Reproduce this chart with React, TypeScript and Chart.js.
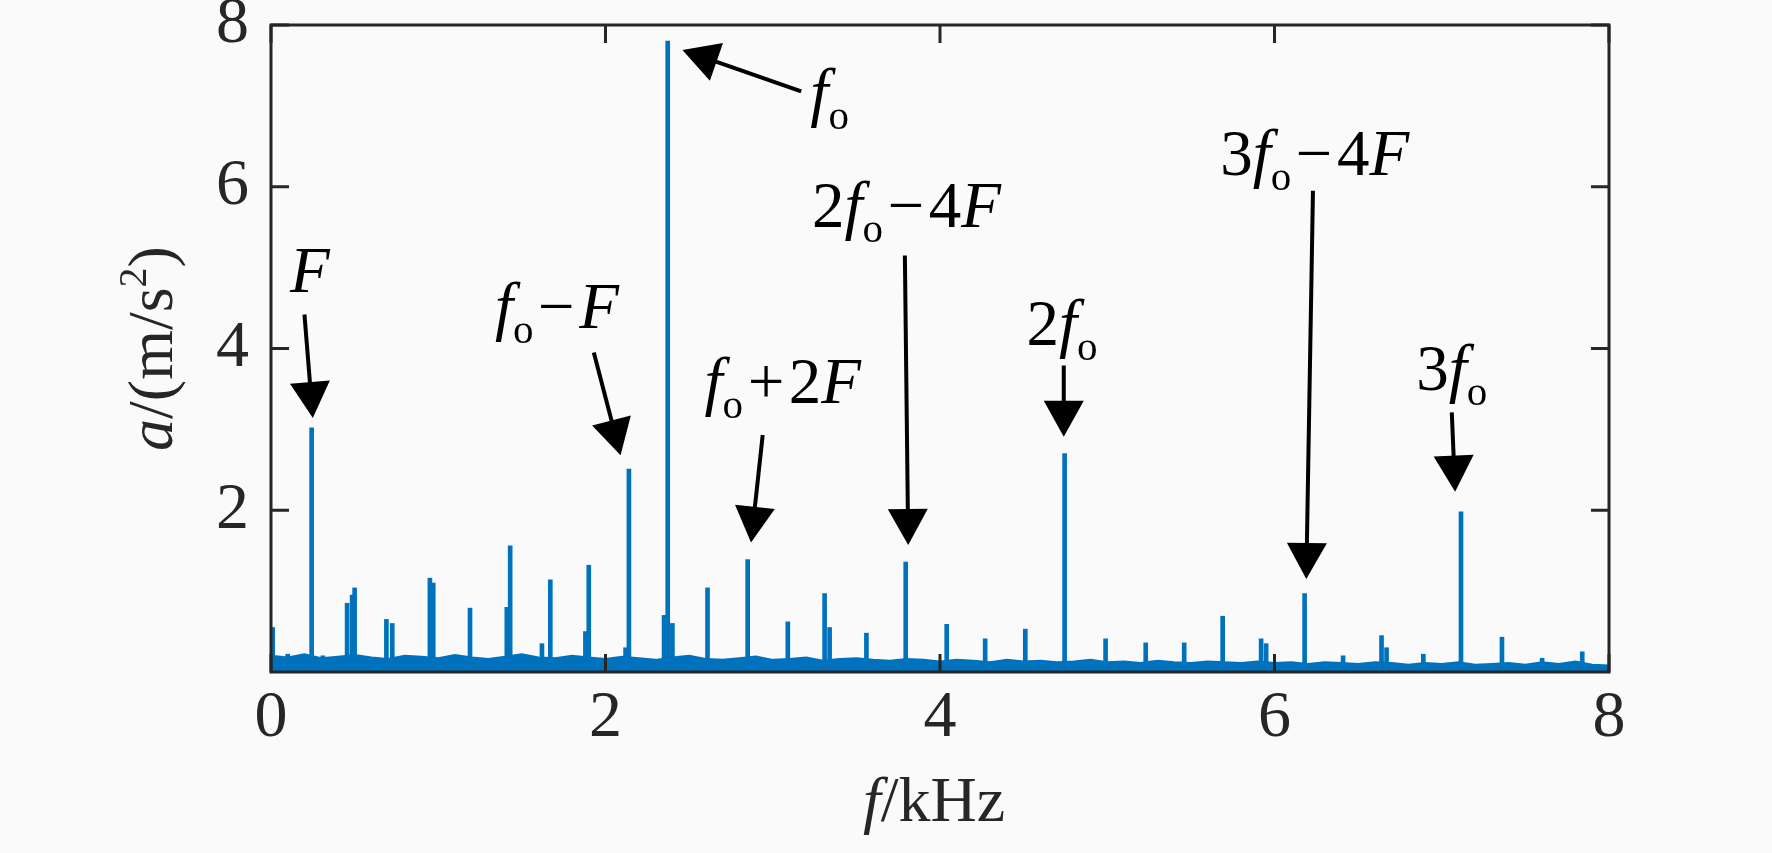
import React, { useEffect, useRef } from "react";
import { Chart, registerables } from "chart.js";

Chart.register(...registerables);

// ---- Data ----
// Spectral peaks: frequency (kHz) and amplitude a (m/s^2)
const peakFreqs = [
  0.01, 0.1, 0.16, 0.243, 0.31, 0.455, 0.485, 0.5, 0.69, 0.725,
  0.95, 0.97, 1.19, 1.41, 1.43, 1.62, 1.67, 1.88, 1.9, 2.12,
  2.14, 2.35, 2.372, 2.4, 2.61, 2.85, 3.09, 3.31, 3.34, 3.56,
  3.795, 4.04, 4.27, 4.51, 4.745, 4.99, 5.23, 5.46, 5.69, 5.92,
  5.95, 6.18, 6.41, 6.64, 6.67, 6.89, 7.115, 7.36, 7.6, 7.84,
];
const peakAmps = [
  0.55, 0.22, 0.2, 3.02, 0.2, 0.85, 0.95, 1.04, 0.65, 0.6,
  1.16, 1.1, 0.79, 0.8, 1.56, 0.35, 1.14, 0.5, 1.32, 0.3,
  2.51, 0.7, 7.8, 0.6, 1.04, 1.39, 0.62, 0.97, 0.55, 0.48,
  1.36, 0.59, 0.41, 0.53, 2.7, 0.41, 0.36, 0.36, 0.69, 0.41,
  0.35, 0.97, 0.2, 0.45, 0.3, 0.22, 1.98, 0.43, 0.17, 0.25,
];

// Broadband noise floor
const floorFreqs = [
  0.0, 0.1, 0.2, 0.3, 0.4, 0.5, 0.6, 0.7, 0.8, 0.9,
  1.0, 1.1, 1.2, 1.3, 1.4, 1.5, 1.6, 1.7, 1.8, 1.9,
  2.0, 2.1, 2.2, 2.3, 2.4, 2.5, 2.6, 2.7, 2.8, 2.9,
  3.0, 3.1, 3.2, 3.3, 3.4, 3.5, 3.6, 3.7, 3.8, 3.9,
  4.0, 4.1, 4.2, 4.3, 4.4, 4.5, 4.6, 4.7, 4.8, 4.9,
  5.0, 5.1, 5.2, 5.3, 5.4, 5.5, 5.6, 5.7, 5.8, 5.9,
  6.0, 6.1, 6.2, 6.3, 6.4, 6.5, 6.6, 6.7, 6.8, 6.9,
  7.0, 7.1, 7.2, 7.3, 7.4, 7.5, 7.6, 7.7, 7.8, 7.9, 8.0,
];
const floorVals = [
  0.2, 0.18, 0.22, 0.17, 0.19, 0.21, 0.18, 0.16, 0.2, 0.19,
  0.17, 0.21, 0.18, 0.16, 0.19, 0.22, 0.18, 0.17, 0.2, 0.18,
  0.16, 0.19, 0.17, 0.15, 0.18, 0.2, 0.16, 0.15, 0.17, 0.19,
  0.15, 0.16, 0.18, 0.14, 0.16, 0.17, 0.15, 0.14, 0.16, 0.15,
  0.13, 0.15, 0.14, 0.12, 0.15, 0.13, 0.14, 0.12, 0.13, 0.15,
  0.12, 0.13, 0.11, 0.14, 0.12, 0.11, 0.13, 0.12, 0.11, 0.13,
  0.11, 0.12, 0.1, 0.12, 0.11, 0.1, 0.12, 0.11, 0.09, 0.11,
  0.1, 0.12, 0.09, 0.1, 0.11, 0.09, 0.12, 0.1, 0.13, 0.09, 0.08,
];

const xTicks = [0, 2, 4, 6, 8];
const yTicks = [2, 4, 6, 8];

// Annotation labels: centre x, baseline y (data units), rich-text parts
// style: n = upright, i = italic, s = subscript, o = operator (spaced)
type Part = [string, "n" | "i" | "s" | "o"];
const labelX = [0.233, 1.71, 3.34, 3.06, 3.8, 4.73, 6.24, 7.06];
const labelY = [4.7, 4.25, 6.9, 3.32, 5.5, 4.04, 6.14, 3.49];
const labelParts: Part[][] = [
  [["F", "i"]],
  [["f", "i"], ["o", "s"], ["\u2212", "o"], ["F", "i"]],
  [["f", "i"], ["o", "s"]],
  [["f", "i"], ["o", "s"], ["+", "o"], ["2", "n"], ["F", "i"]],
  [["2", "n"], ["f", "i"], ["o", "s"], ["\u2212", "o"], ["4", "n"], ["F", "i"]],
  [["2", "n"], ["f", "i"], ["o", "s"]],
  [["3", "n"], ["f", "i"], ["o", "s"], ["\u2212", "o"], ["4", "n"], ["F", "i"]],
  [["3", "n"], ["f", "i"], ["o", "s"]],
];

// Arrows: tail and tip in data units
const arrowFromX = [0.2, 1.93, 3.17, 2.94, 3.79, 4.74, 6.23, 7.06];
const arrowFromY = [4.42, 3.95, 7.18, 2.93, 5.15, 3.79, 5.95, 3.21];
const arrowToX = [0.25, 2.09, 2.46, 2.87, 3.81, 4.74, 6.19, 7.08];
const arrowToY = [3.14, 2.68, 7.69, 1.6, 1.57, 2.91, 1.15, 2.23];

const W = 1772;
const H = 853;
const PLOT_LEFT = 271;
const PLOT_RIGHT = 1609;
const PLOT_TOP = 25;
const PLOT_BOTTOM = 672;
const BLUE = "#0072BD";
const AXIS = "#262626";
const FONT = '"Liberation Serif", "Times New Roman", serif';
const FS = 65;
const SUB = 41;
const TICK_FS = 66;

function fontFor(s: string, fs: number, sub: number) {
  return s === "i" ? `italic ${fs}px ${FONT}` : s === "s" ? `${sub}px ${FONT}` : `${fs}px ${FONT}`;
}

function drawRich(
  ctx: CanvasRenderingContext2D,
  parts: Part[],
  cx: number,
  by: number,
  fs: number,
  sub: number,
  subShift: number
) {
  const gap = fs * 0.07;
  let total = 0;
  const widths: number[] = [];
  for (const [t, s] of parts) {
    ctx.font = fontFor(s, fs, sub);
    const w = ctx.measureText(t).width + (s === "o" ? 2 * gap : 0);
    widths.push(w);
    total += w;
  }
  let x = cx - total / 2;
  ctx.textBaseline = "alphabetic";
  ctx.textAlign = "left";
  parts.forEach(([t, s], i) => {
    ctx.font = fontFor(s, fs, sub);
    ctx.fillText(t, s === "o" ? x + gap : x, s === "s" ? by + subShift : by);
    x += widths[i];
  });
}

const decorPlugin = {
  id: "decor",
  beforeDraw(chart: any) {
    const ctx = chart.ctx;
    ctx.save();
    ctx.fillStyle = "#fafafa";
    ctx.fillRect(0, 0, chart.width, chart.height);
    ctx.restore();
  },
  afterDraw(chart: any) {
    const ctx: CanvasRenderingContext2D = chart.ctx;
    const xs = chart.scales.x;
    const ys = chart.scales.y;
    const { left, right, top, bottom } = chart.chartArea;
    ctx.save();
    // frame
    ctx.strokeStyle = AXIS;
    ctx.lineWidth = 3;
    ctx.strokeRect(left, top, right - left, bottom - top);
    // inward ticks
    const tl = 18;
    ctx.beginPath();
    xTicks.forEach((v) => {
      const p = xs.getPixelForValue(v);
      ctx.moveTo(p, bottom);
      ctx.lineTo(p, bottom - tl);
      ctx.moveTo(p, top);
      ctx.lineTo(p, top + tl);
    });
    yTicks.forEach((v) => {
      const p = ys.getPixelForValue(v);
      ctx.moveTo(left, p);
      ctx.lineTo(left + tl, p);
      ctx.moveTo(right, p);
      ctx.lineTo(right - tl, p);
    });
    ctx.stroke();

    // arrows
    ctx.strokeStyle = "#000";
    ctx.fillStyle = "#000";
    arrowFromX.forEach((_, i) => {
      const x0 = xs.getPixelForValue(arrowFromX[i]);
      const y0 = ys.getPixelForValue(arrowFromY[i]);
      const x1 = xs.getPixelForValue(arrowToX[i]);
      const y1 = ys.getPixelForValue(arrowToY[i]);
      const dx = x1 - x0;
      const dy = y1 - y0;
      const len = Math.hypot(dx, dy);
      const ux = dx / len;
      const uy = dy / len;
      const hl = 36;
      const hw = 20;
      const bx = x1 - ux * hl;
      const by = y1 - uy * hl;
      ctx.lineWidth = 4;
      ctx.beginPath();
      ctx.moveTo(x0, y0);
      ctx.lineTo(bx + ux * 2, by + uy * 2);
      ctx.stroke();
      ctx.beginPath();
      ctx.moveTo(x1, y1);
      ctx.lineTo(bx - uy * hw, by + ux * hw);
      ctx.lineTo(bx + uy * hw, by - ux * hw);
      ctx.closePath();
      ctx.fill();
    });

    // labels
    ctx.fillStyle = "#000";
    labelParts.forEach((parts, i) => {
      drawRich(ctx, parts, xs.getPixelForValue(labelX[i]), ys.getPixelForValue(labelY[i]), FS, SUB, 15);
    });

    // axis titles
    ctx.fillStyle = AXIS;
    const cx = (left + right) / 2;
    drawRich(ctx, [["f", "i"], ["/kHz", "n"]], cx - 6, 821, 64, 40, 14);
    ctx.translate(172, (top + bottom) / 2);
    ctx.rotate(-Math.PI / 2);
    drawRich(ctx, [["a", "i"], ["/(m/s", "n"], ["2", "s"], [")", "n"]], 0, 0, 64, 40, -26);
    ctx.restore();
  },
};

export default function App() {
  const ref = useRef<HTMLCanvasElement | null>(null);
  useEffect(() => {
    document.body.style.margin = "0";
    const canvas = ref.current!;
    const peaks = peakFreqs.map((f, i) => ({ x: f, y: peakAmps[i] }));
    const floor = floorFreqs.map((f, i) => ({ x: f, y: floorVals[i] }));
    const tickFont = { family: FONT, size: TICK_FS, lineHeight: 1 };
    const chart = new Chart(canvas, {
      type: "bar",
      data: {
        datasets: [
          {
            type: "bar",
            data: peaks as any,
            backgroundColor: BLUE,
            borderWidth: 0,
            barThickness: 4,
            grouped: false,
            order: 0,
          } as any,
          {
            type: "line",
            data: floor as any,
            borderColor: BLUE,
            backgroundColor: BLUE,
            borderWidth: 2,
            pointRadius: 0,
            fill: "origin",
            tension: 0,
            order: 1,
          } as any,
        ],
      },
      options: {
        responsive: false,
        animation: false,
        devicePixelRatio: 1,
        events: [],
        layout: { padding: { left: 0, right: W - PLOT_RIGHT, top: PLOT_TOP, bottom: 0 } },
        plugins: { legend: { display: false }, tooltip: { enabled: false } },
        scales: {
          x: {
            type: "linear",
            min: 0,
            max: 8,
            offset: false,
            grid: { display: false, drawTicks: false },
            border: { display: false },
            afterBuildTicks: (s: any) => {
              s.ticks = xTicks.map((v) => ({ value: v }));
            },
            ticks: { font: tickFont, color: AXIS, padding: 14, maxRotation: 0, autoSkip: false },
            afterFit: (s: any) => {
              s.height = H - PLOT_BOTTOM;
              s.paddingLeft = 0;
              s.paddingRight = 0;
            },
          },
          y: {
            type: "linear",
            min: 0,
            max: 8,
            grid: { display: false, drawTicks: false },
            border: { display: false },
            afterBuildTicks: (s: any) => {
              s.ticks = yTicks.map((v) => ({ value: v }));
            },
            ticks: { font: tickFont, color: AXIS, padding: 22, autoSkip: false },
            afterFit: (s: any) => {
              s.width = PLOT_LEFT;
              s.paddingTop = 0;
              s.paddingBottom = 0;
            },
          },
        },
      } as any,
      plugins: [decorPlugin],
    });
    return () => chart.destroy();
  }, []);
  return (
    <div style={{ width: W, height: H }}>
      <canvas ref={ref} width={W} height={H} style={{ display: "block" }} />
    </div>
  );
}
